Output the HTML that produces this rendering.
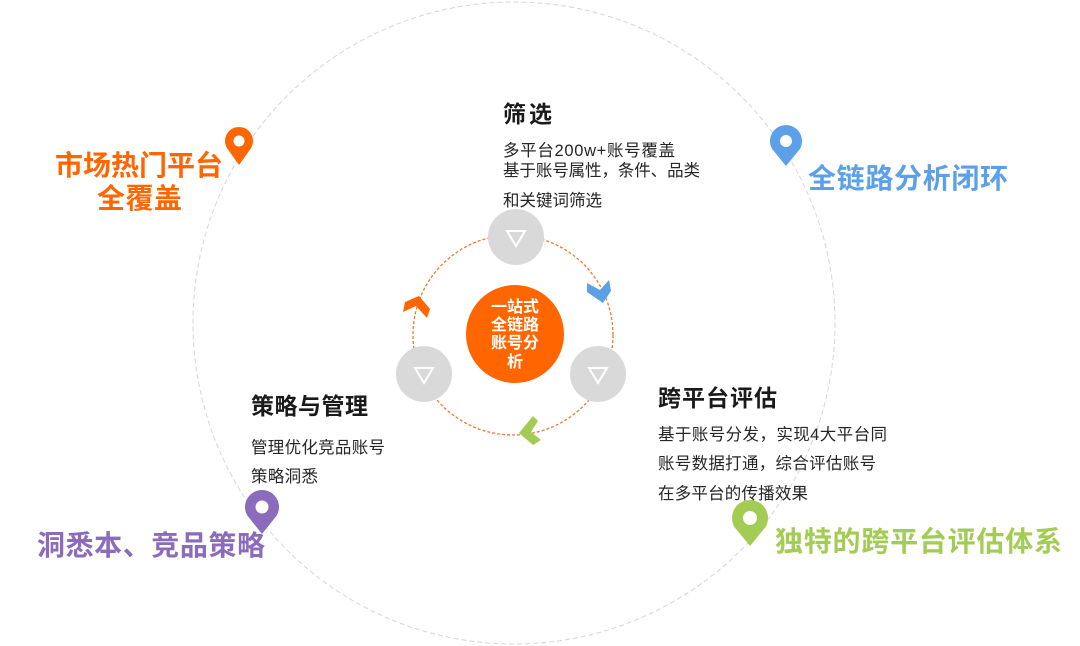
<!DOCTYPE html>
<html>
<head>
<meta charset="utf-8">
<style>
  html,body{margin:0;padding:0;background:#fff;}
  body{width:1080px;height:646px;overflow:hidden;}
  svg{display:block;}
  text{font-family:"Liberation Sans","Noto Sans CJK SC",sans-serif;}
</style>
</head>
<body>
<svg width="1080" height="646" viewBox="0 0 1080 646" xmlns="http://www.w3.org/2000/svg">
  <rect width="1080" height="646" fill="#ffffff"/>

  <!-- big outer dashed circle -->
  <circle cx="514" cy="323" r="321" fill="none" stroke="#d6d6d6" stroke-width="1" stroke-dasharray="5 3"/>

  <!-- inner orange dashed circle -->
  <circle cx="513" cy="335" r="100" fill="none" stroke="#f07a30" stroke-width="1.3" stroke-dasharray="3 2"/>

  <!-- chevrons -->
  <polygon points="587,283 600,290 609,280 611,291 603,303 587,292" fill="#5ba0e8"/>
  <polygon points="419,296 430,309 427,318 416,306 403,312 405,302" fill="#ff6600"/>
  <polygon points="533,416 538,421 531,432 541,440 533,445 519,433" fill="#a3cc55"/>

  <!-- gray node circles -->
  <circle cx="516" cy="237" r="28" fill="#d9d9d9"/>
  <circle cx="424" cy="374" r="28" fill="#d9d9d9"/>
  <circle cx="598" cy="374" r="28" fill="#d9d9d9"/>
  <!-- white triangles -->
  <polygon points="507,231 525,231 516,246" fill="none" stroke="#ffffff" stroke-width="2"/>
  <polygon points="415,368 433,368 424,383" fill="none" stroke="#ffffff" stroke-width="2"/>
  <polygon points="589,368 607,368 598,383" fill="none" stroke="#ffffff" stroke-width="2"/>

  <!-- center orange circle -->
  <circle cx="515" cy="334" r="49" fill="#ff6600"/>
  <g fill="#ffffff" font-size="16" font-weight="bold" text-anchor="middle">
    <text x="515" y="312">一站式</text>
    <text x="515" y="330">全链路</text>
    <text x="515" y="348">账号分</text>
    <text x="515" y="367">析</text>
  </g>

  <!-- pins -->
  <!-- orange -->
  <path d="M226.9,148 A14,14 0 1 1 251.1,148 L239,165 Z" fill="#ff6600"/>
  <circle cx="239" cy="141" r="5.5" fill="#fff"/>
  <!-- blue -->
  <path d="M772.1,149 A16,16 0 1 1 799.9,149 L786,166 Z" fill="#5ba0e8"/>
  <circle cx="786" cy="141" r="6" fill="#fff"/>
  <!-- purple -->
  <path d="M247.3,515.5 A17,17 0 1 1 276.7,515.5 L262,534 Z" fill="#8b6bbb"/>
  <circle cx="262" cy="507" r="6.5" fill="#fff"/>
  <!-- green -->
  <path d="M734.4,527 A18,18 0 1 1 765.6,527 L750,546 Z" fill="#a3cc55"/>
  <circle cx="750" cy="518" r="7" fill="#fff"/>

  <!-- colored labels -->
  <g font-size="28" font-weight="bold">
    <text x="55" y="175" fill="#ff6600" textLength="168" lengthAdjust="spacing">市场热门平台</text>
    <text x="97" y="208" fill="#ff6600" textLength="85" lengthAdjust="spacing">全覆盖</text>
    <text x="808" y="188" fill="#5ba0e8" textLength="200" lengthAdjust="spacing">全链路分析闭环</text>
    <text x="37" y="555" fill="#8b6bbb" textLength="228" lengthAdjust="spacing">洞悉本、竞品策略</text>
    <text x="775" y="551" fill="#a3cc55" textLength="287" lengthAdjust="spacing">独特的跨平台评估体系</text>
  </g>

  <!-- headings -->
  <g font-size="23" font-weight="bold" fill="#1a1a1a">
    <text x="503" y="122" textLength="49" lengthAdjust="spacing">筛选</text>
    <text x="658" y="406" textLength="119" lengthAdjust="spacing">跨平台评估</text>
    <text x="251" y="414" textLength="117" lengthAdjust="spacing">策略与管理</text>
  </g>

  <!-- body text -->
  <g font-size="16.5" fill="#262626">
    <text x="503" y="156" textLength="172" lengthAdjust="spacing">多平台200w+账号覆盖</text>
    <text x="503" y="176" textLength="197" lengthAdjust="spacing">基于账号属性，条件、品类</text>
    <text x="503" y="206" textLength="99" lengthAdjust="spacing">和关键词筛选</text>

    <text x="658" y="440" textLength="229" lengthAdjust="spacing">基于账号分发，实现4大平台同</text>
    <text x="658" y="469" textLength="218" lengthAdjust="spacing">账号数据打通，综合评估账号</text>
    <text x="658" y="499" textLength="150" lengthAdjust="spacing">在多平台的传播效果</text>

    <text x="251" y="453" textLength="134" lengthAdjust="spacing">管理优化竞品账号</text>
    <text x="251" y="482" textLength="67" lengthAdjust="spacing">策略洞悉</text>
  </g>
</svg>
</body>
</html>
